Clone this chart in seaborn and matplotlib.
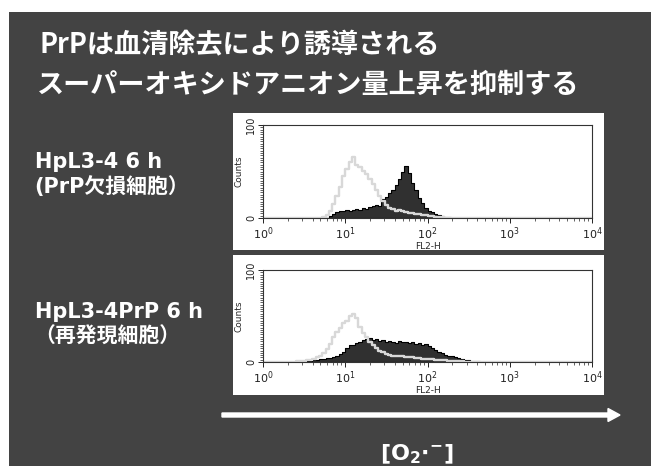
import numpy as np
import matplotlib
matplotlib.use("Agg")
import matplotlib.pyplot as plt
from matplotlib.patches import Rectangle, FancyArrow
from matplotlib.ticker import FixedLocator, LogLocator, MultipleLocator, NullFormatter
import seaborn as sns

# --- data: FL2-H channel centres (log10) and counts ---
fl2_log = np.round(np.arange(0.42, 2.80, 0.04), 2)

top_control = [0, 0, 0, 0, 0, 0, 0, 0.5, 1, 3,
               8, 15, 24, 33, 45, 53, 60, 66, 57, 55,
               51, 47, 42, 37, 30, 24, 18, 14, 11, 10,
               8, 9, 7, 6, 5, 5, 4, 4, 3, 3,
               2, 2, 1.5, 1, 1, 0.5, 0.5, 0, 0, 0,
               0, 0, 0, 0, 0, 0, 0, 0, 0, 0]
top_serum = [0, 0, 0, 0, 0, 0, 0, 0, 0, 0.5,
             2, 4, 6, 7, 8, 9, 8, 9, 10, 9,
             11, 10, 12, 13, 14, 13, 20, 23, 27, 30,
             36, 42, 50, 56, 48, 38, 30, 22, 16, 11,
             8, 6, 4, 3, 2, 1.5, 1, 0.5, 0.5, 0,
             0, 0, 0, 0, 0, 0, 0, 0, 0, 0]
bottom_control = [1, 1, 1.5, 2, 2, 3, 5, 7, 10, 14,
                  20, 27, 33, 37, 42, 45, 50, 52, 48, 38,
                  32, 27, 22, 18, 15, 12, 11, 9, 8, 7,
                  7, 6, 6, 5, 5, 5, 4, 4, 3, 3,
                  3, 3, 2, 2, 2, 2, 1.5, 1, 1, 1,
                  1, 0.5, 0.5, 0, 0, 0, 0, 0, 0, 0]
bottom_serum = [0, 0, 0.5, 1, 1.5, 2, 2.5, 3, 3.5, 4,
                4, 5, 7, 9, 11, 15, 18, 18, 21, 22,
                24, 25, 26, 24, 25, 23, 24, 22, 23, 22,
                21, 23, 22, 22, 21, 22, 20, 21, 19, 20,
                17, 15, 13, 11, 10, 8, 7, 6, 5, 4,
                3, 2.5, 2, 1.5, 1, 1, 0.5, 0.5, 0, 0]

title_lines = ["PrPは血清除去により誘導される", "スーパーオキシドアニオン量上昇を抑制する"]
row_labels = [("HpL3-4 6 h", "(PrP欠損細胞）"), ("HpL3-4PrP 6 h", "（再発現細胞）")]
x_ticks = [1, 10, 100, 1000, 10000]
x_tick_labels = ["$10^0$", "$10^1$", "$10^2$", "$10^3$", "$10^4$"]

BG = "#434343"

sns.set_style("ticks")
plt.rcParams["font.family"] = ["Noto Sans CJK JP", "DejaVu Sans"]
plt.rcParams["mathtext.fontset"] = "dejavusans"
plt.rcParams["mathtext.default"] = "regular"
label_fam = ["DejaVu Sans", "Noto Sans CJK JP"]

W, H = 651, 466
fig = plt.figure(figsize=(W / 100, H / 100), dpi=100)
fig.patch.set_facecolor("white")

# dark slide background and white frames around each plot
fig.patches.append(Rectangle((9 / W, 0), 642 / W, 454 / H, transform=fig.transFigure,
                             facecolor=BG, edgecolor="none", zorder=0))
for y0, y1 in [(113, 250), (255, 395)]:
    fig.patches.append(Rectangle((233 / W, 1 - y1 / H), (604 - 233) / W, (y1 - y0) / H,
                                 transform=fig.transFigure, facecolor="white",
                                 edgecolor="none", zorder=1))

panels = [((125, 218), top_control, top_serum), ((270, 362), bottom_control, bottom_serum)]

for (ya, yb), control, serum in panels:
    ax = fig.add_axes([263 / W, 1 - yb / H, 329 / W, (yb - ya) / H])
    ax.set_zorder(2)
    sns.histplot(x=10 ** fl2_log, weights=serum, log_scale=True, binwidth=0.04,
                 binrange=(0, 4), element="step", fill=True, color="#303030",
                 edgecolor="black", linewidth=0.8, alpha=1, ax=ax)
    sns.histplot(x=10 ** fl2_log, weights=control, log_scale=True, binwidth=0.04,
                 binrange=(0, 4), element="step", fill=False, color="#d8d8d8",
                 linewidth=1.7, ax=ax)
    ax.set_xlim(1, 10000)
    ax.set_ylim(0, 100)
    ax.xaxis.set_major_locator(FixedLocator(x_ticks))
    ax.set_xticklabels(x_tick_labels, fontsize=8, family="DejaVu Sans")
    ax.xaxis.set_minor_locator(LogLocator(base=10, subs=np.arange(2, 10)))
    ax.xaxis.set_minor_formatter(NullFormatter())
    ax.set_yticks([0, 100])
    ax.set_yticklabels(["0", "100"], rotation=90, va="center", fontsize=7,
                       family="DejaVu Sans")
    ax.yaxis.set_minor_locator(MultipleLocator(2.5))
    ax.tick_params(which="major", length=3.5, width=0.7, pad=1.5, colors="#222222")
    ax.tick_params(which="minor", length=2, width=0.5, colors="#222222")
    ax.set_xlabel("FL2-H", fontsize=6.5, labelpad=0, family="DejaVu Sans")
    ax.set_ylabel("Counts", fontsize=6.5, labelpad=2, family="DejaVu Sans")
    for s in ax.spines.values():
        s.set_linewidth(0.8)
        s.set_color("#333333")
    ax.set_facecolor("white")

# title
fig.text(40 / W, 1 - 45 / H, title_lines[0], color="white", fontsize=19.5,
         fontweight="bold", va="center", ha="left")
fig.text(37 / W, 1 - 85 / H, title_lines[1], color="white", fontsize=19.5,
         fontweight="bold", va="center", ha="left")

# row labels
for (l1, l2), yc in zip(row_labels, [162, 312]):
    fig.text(35 / W, 1 - yc / H, l1, color="white", fontsize=15,
             fontweight="bold", family=label_fam, va="center", ha="left")
    fig.text(34 / W, 1 - (yc + 25) / H, l2, color="white", fontsize=15,
             fontweight="bold", family=label_fam, va="center", ha="left")

# superoxide arrow
fig.patches.append(FancyArrow(
    222 / W, 1 - 415 / H, 398 / W, 0, width=4 / H, head_width=13 / H,
    head_length=12 / W, length_includes_head=True, transform=fig.transFigure,
    color="white", zorder=3))
fig.text(417 / W, 1 - 454 / H, r"[O$_\mathbf{2}$$\cdot$$^\mathbf{-}$]", color="white",
         fontsize=16, fontweight="bold", family="DejaVu Sans", ha="center", va="center")

fig.savefig("out.png", dpi=100, facecolor=fig.get_facecolor())
